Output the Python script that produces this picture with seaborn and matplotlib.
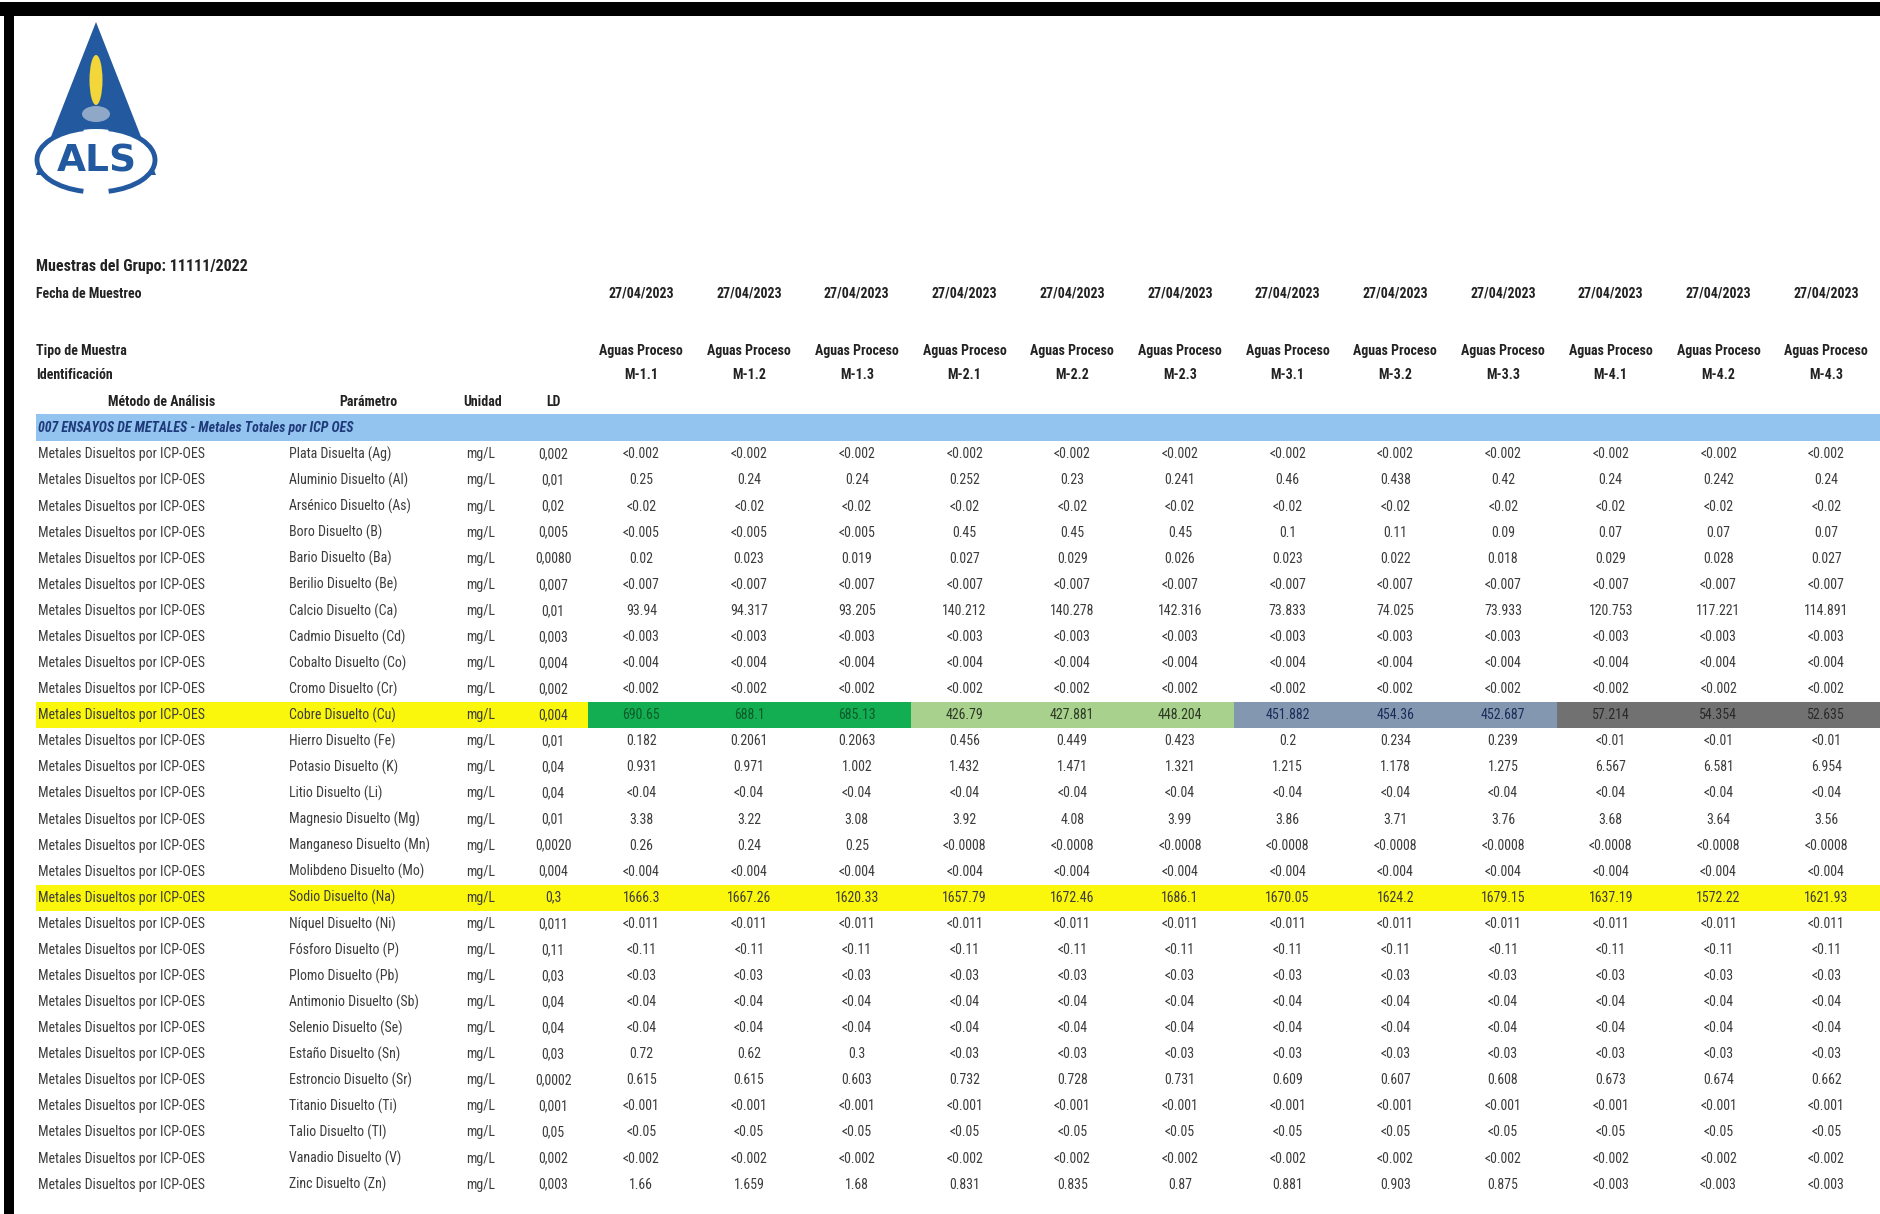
import numpy as np
import pandas as pd
import matplotlib
matplotlib.use("Agg")
import matplotlib.pyplot as plt
from matplotlib.colors import ListedColormap
from matplotlib.patches import Polygon, Ellipse, Arc, Rectangle
from matplotlib import font_manager
import seaborn as sns

# ---------------- data ----------------
group_label = "Muestras del Grupo: 11111/2022"
date_label = "Fecha de Muestreo"
type_label = "Tipo de Muestra"
id_label = "Identificación"
section_title = "007 ENSAYOS DE METALES - Metales Totales por ICP OES"
header_cols = ["Método de Análisis", "Parámetro", "Unidad", "LD"]

sample_dates = ["27/04/2023", "27/04/2023", "27/04/2023", "27/04/2023", "27/04/2023", "27/04/2023",
                "27/04/2023", "27/04/2023", "27/04/2023", "27/04/2023", "27/04/2023", "27/04/2023"]
sample_types = ["Aguas Proceso", "Aguas Proceso", "Aguas Proceso", "Aguas Proceso", "Aguas Proceso",
                "Aguas Proceso", "Aguas Proceso", "Aguas Proceso", "Aguas Proceso", "Aguas Proceso",
                "Aguas Proceso", "Aguas Proceso"]
sample_ids = ["M-1.1", "M-1.2", "M-1.3", "M-2.1", "M-2.2", "M-2.3",
              "M-3.1", "M-3.2", "M-3.3", "M-4.1", "M-4.2", "M-4.3"]

method_name = "Metales Disueltos por ICP-OES"
parameters = ["Plata Disuelta (Ag)", "Aluminio Disuelto (Al)", "Arsénico Disuelto (As)", "Boro Disuelto (B)",
              "Bario Disuelto (Ba)", "Berilio Disuelto (Be)", "Calcio Disuelto (Ca)", "Cadmio Disuelto (Cd)",
              "Cobalto Disuelto (Co)", "Cromo Disuelto (Cr)", "Cobre Disuelto (Cu)", "Hierro Disuelto (Fe)",
              "Potasio Disuelto (K)", "Litio Disuelto (Li)", "Magnesio Disuelto (Mg)", "Manganeso Disuelto (Mn)",
              "Molibdeno Disuelto (Mo)", "Sodio Disuelto (Na)", "Níquel Disuelto (Ni)", "Fósforo Disuelto (P)",
              "Plomo Disuelto (Pb)", "Antimonio Disuelto (Sb)", "Selenio Disuelto (Se)", "Estaño Disuelto (Sn)",
              "Estroncio Disuelto (Sr)", "Titanio Disuelto (Ti)", "Talio Disuelto (Tl)", "Vanadio Disuelto (V)",
              "Zinc Disuelto (Zn)"]
unit = "mg/L"
ld_values = ["0,002", "0,01", "0,02", "0,005", "0,0080", "0,007", "0,01", "0,003", "0,004", "0,002",
             "0,004", "0,01", "0,04", "0,04", "0,01", "0,0020", "0,004", "0,3", "0,011", "0,11",
             "0,03", "0,04", "0,04", "0,03", "0,0002", "0,001", "0,05", "0,002", "0,003"]

ag = ["<0.002", "<0.002", "<0.002", "<0.002", "<0.002", "<0.002", "<0.002", "<0.002", "<0.002", "<0.002", "<0.002", "<0.002"]
al = ["0.25", "0.24", "0.24", "0.252", "0.23", "0.241", "0.46", "0.438", "0.42", "0.24", "0.242", "0.24"]
as_ = ["<0.02", "<0.02", "<0.02", "<0.02", "<0.02", "<0.02", "<0.02", "<0.02", "<0.02", "<0.02", "<0.02", "<0.02"]
b = ["<0.005", "<0.005", "<0.005", "0.45", "0.45", "0.45", "0.1", "0.11", "0.09", "0.07", "0.07", "0.07"]
ba = ["0.02", "0.023", "0.019", "0.027", "0.029", "0.026", "0.023", "0.022", "0.018", "0.029", "0.028", "0.027"]
be = ["<0.007", "<0.007", "<0.007", "<0.007", "<0.007", "<0.007", "<0.007", "<0.007", "<0.007", "<0.007", "<0.007", "<0.007"]
ca = ["93.94", "94.317", "93.205", "140.212", "140.278", "142.316", "73.833", "74.025", "73.933", "120.753", "117.221", "114.891"]
cd = ["<0.003", "<0.003", "<0.003", "<0.003", "<0.003", "<0.003", "<0.003", "<0.003", "<0.003", "<0.003", "<0.003", "<0.003"]
co = ["<0.004", "<0.004", "<0.004", "<0.004", "<0.004", "<0.004", "<0.004", "<0.004", "<0.004", "<0.004", "<0.004", "<0.004"]
cr = ["<0.002", "<0.002", "<0.002", "<0.002", "<0.002", "<0.002", "<0.002", "<0.002", "<0.002", "<0.002", "<0.002", "<0.002"]
cu = ["690.65", "688.1", "685.13", "426.79", "427.881", "448.204", "451.882", "454.36", "452.687", "57.214", "54.354", "52.635"]
fe = ["0.182", "0.2061", "0.2063", "0.456", "0.449", "0.423", "0.2", "0.234", "0.239", "<0.01", "<0.01", "<0.01"]
k = ["0.931", "0.971", "1.002", "1.432", "1.471", "1.321", "1.215", "1.178", "1.275", "6.567", "6.581", "6.954"]
li = ["<0.04", "<0.04", "<0.04", "<0.04", "<0.04", "<0.04", "<0.04", "<0.04", "<0.04", "<0.04", "<0.04", "<0.04"]
mg = ["3.38", "3.22", "3.08", "3.92", "4.08", "3.99", "3.86", "3.71", "3.76", "3.68", "3.64", "3.56"]
mn = ["0.26", "0.24", "0.25", "<0.0008", "<0.0008", "<0.0008", "<0.0008", "<0.0008", "<0.0008", "<0.0008", "<0.0008", "<0.0008"]
mo = ["<0.004", "<0.004", "<0.004", "<0.004", "<0.004", "<0.004", "<0.004", "<0.004", "<0.004", "<0.004", "<0.004", "<0.004"]
na = ["1666.3", "1667.26", "1620.33", "1657.79", "1672.46", "1686.1", "1670.05", "1624.2", "1679.15", "1637.19", "1572.22", "1621.93"]
ni = ["<0.011", "<0.011", "<0.011", "<0.011", "<0.011", "<0.011", "<0.011", "<0.011", "<0.011", "<0.011", "<0.011", "<0.011"]
p = ["<0.11", "<0.11", "<0.11", "<0.11", "<0.11", "<0.11", "<0.11", "<0.11", "<0.11", "<0.11", "<0.11", "<0.11"]
pb = ["<0.03", "<0.03", "<0.03", "<0.03", "<0.03", "<0.03", "<0.03", "<0.03", "<0.03", "<0.03", "<0.03", "<0.03"]
sb = ["<0.04", "<0.04", "<0.04", "<0.04", "<0.04", "<0.04", "<0.04", "<0.04", "<0.04", "<0.04", "<0.04", "<0.04"]
se = ["<0.04", "<0.04", "<0.04", "<0.04", "<0.04", "<0.04", "<0.04", "<0.04", "<0.04", "<0.04", "<0.04", "<0.04"]
sn = ["0.72", "0.62", "0.3", "<0.03", "<0.03", "<0.03", "<0.03", "<0.03", "<0.03", "<0.03", "<0.03", "<0.03"]
sr = ["0.615", "0.615", "0.603", "0.732", "0.728", "0.731", "0.609", "0.607", "0.608", "0.673", "0.674", "0.662"]
ti = ["<0.001", "<0.001", "<0.001", "<0.001", "<0.001", "<0.001", "<0.001", "<0.001", "<0.001", "<0.001", "<0.001", "<0.001"]
tl = ["<0.05", "<0.05", "<0.05", "<0.05", "<0.05", "<0.05", "<0.05", "<0.05", "<0.05", "<0.05", "<0.05", "<0.05"]
v = ["<0.002", "<0.002", "<0.002", "<0.002", "<0.002", "<0.002", "<0.002", "<0.002", "<0.002", "<0.002", "<0.002", "<0.002"]
zn = ["1.66", "1.659", "1.68", "0.831", "0.835", "0.87", "0.881", "0.903", "0.875", "<0.003", "<0.003", "<0.003"]

results = [ag, al, as_, b, ba, be, ca, cd, co, cr, cu, fe, k, li, mg, mn, mo, na, ni, p, pb, sb, se,
           sn, sr, ti, tl, v, zn]

# ---------------- styling ----------------
W, H = 1880, 1214
row0, row_h = 454.4, 26.08
data_left, data_right = 587.5, 1880.0
n_rows, n_cols = len(parameters), len(sample_ids)
col_w = (data_right - data_left) / n_cols

avail = {f.name for f in font_manager.fontManager.ttflist}
main_font = next((f for f in ["Liberation Sans Narrow", "Roboto Condensed", "Open Sans Condensed", "Lato", "Roboto"]
                  if f in avail), "DejaVu Sans")

sns.set_theme(style="white")
plt.rcParams["font.family"] = [main_font, "DejaVu Sans"]

TXT = "#3c3c3c"
HDR = "#222222"
YELLOW = "#fbf70c"
BAND = "#93c3ef"
cell_colors = ["#ffffff", "#14ae52", "#a9d18e", "#8497b0", "#717171", YELLOW]

cu_idx = parameters.index("Cobre Disuelto (Cu)")
na_idx = parameters.index("Sodio Disuelto (Na)")
cat = np.zeros((n_rows, n_cols))
cat[na_idx, :] = 5
cat[cu_idx, 0:3] = 1
cat[cu_idx, 3:6] = 2
cat[cu_idx, 6:9] = 3
cat[cu_idx, 9:12] = 4
cu_text_colors = ["#0d5a2a"] * 3 + ["#2d3a25"] * 3 + ["#1c2c5a"] * 3 + ["#2a2a2a"] * 3

fig = plt.figure(figsize=(W / 100, H / 100), dpi=100)
fig.patch.set_facecolor("white")

bg = fig.add_axes([0, 0, 1, 1])
bg.set_xlim(0, W)
bg.set_ylim(H, 0)
bg.axis("off")

# black frame (top + left)
bg.add_patch(Rectangle((0, 2), W, 14, color="black", lw=0))
bg.add_patch(Rectangle((4, 2), 10, H, color="black", lw=0))

# logo
LOGO = "#22599f"
bg.add_patch(Polygon([(96, 22), (36, 175), (156, 175)], closed=True, color=LOGO, lw=0))
bg.add_patch(Ellipse((96, 160), 116, 62, color="white", lw=0))
bg.add_patch(Arc((96, 160), 118, 64, theta1=112, theta2=248, color=LOGO, lw=3.5))
bg.add_patch(Arc((96, 160), 118, 64, theta1=-68, theta2=68, color=LOGO, lw=3.5))
bg.add_patch(Ellipse((96, 80), 13, 50, color="#f3d73a", lw=0))
bg.add_patch(Ellipse((96, 114), 28, 16, color="#8fa8c8", lw=0))
bg.text(97, 162, "ALS", ha="center", va="center", fontsize=27, fontweight="bold", color=LOGO,
        family=["DejaVu Sans"])

# header texts
bg.text(36, 267, group_label, ha="left", va="center", fontsize=11.5, fontweight="bold", color=HDR)
bg.text(36, 294, date_label, ha="left", va="center", fontsize=10, fontweight="bold", color=HDR)
bg.text(36, 351, type_label, ha="left", va="center", fontsize=10, fontweight="bold", color=HDR)
bg.text(36, 375, id_label, ha="left", va="center", fontsize=10, fontweight="bold", color=HDR)
for name, xc in zip(header_cols, [162, 368, 483, 553]):
    bg.text(xc, 402, name, ha="center", va="center", fontsize=10, fontweight="bold", color=HDR)
for j in range(n_cols):
    xc = data_left + (j + 0.5) * col_w
    bg.text(xc, 294, sample_dates[j], ha="center", va="center", fontsize=10, fontweight="bold", color=HDR)
    bg.text(xc, 351, sample_types[j], ha="center", va="center", fontsize=10, fontweight="bold", color=HDR)
    bg.text(xc, 375, sample_ids[j], ha="center", va="center", fontsize=10, fontweight="bold", color=HDR)

# section band
bg.add_patch(Rectangle((36, 414), W - 36, 27, color=BAND, lw=0))
bg.text(38, 428, section_title, ha="left", va="center", fontsize=10, fontweight="bold",
        style="italic", color="#1f3a7a")

# highlight bands (left part)
for ri in [cu_idx, na_idx]:
    bg.add_patch(Rectangle((36, row0 + (ri - 0.5) * row_h), data_left - 36, row_h, color=YELLOW, lw=0))

# left columns
for i in range(n_rows):
    y = row0 + i * row_h
    bg.text(38, y, method_name, ha="left", va="center", fontsize=10, color=TXT)
    bg.text(289, y, parameters[i], ha="left", va="center", fontsize=10, color=TXT)
    bg.text(481, y, unit, ha="center", va="center", fontsize=10, color=TXT)
    bg.text(553, y, ld_values[i], ha="center", va="center", fontsize=10, color=TXT)

# data grid via seaborn heatmap
top = row0 - row_h / 2
bottom = row0 + (n_rows - 0.5) * row_h
hm_ax = fig.add_axes([data_left / W, 1 - bottom / H, (data_right - data_left) / W, (bottom - top) / H])
cat_df = pd.DataFrame(cat, index=parameters, columns=sample_ids)
annot = np.array(results, dtype=object)
sns.heatmap(cat_df, ax=hm_ax, cmap=ListedColormap(cell_colors), vmin=-0.5, vmax=5.5, cbar=False,
            annot=annot, fmt="", annot_kws={"fontsize": 10, "color": TXT},
            xticklabels=False, yticklabels=False, linewidths=0)
hm_ax.axis("off")
for t in hm_ax.texts:
    x, y = t.get_position()
    r, c = int(y), int(x)
    if r == cu_idx:
        t.set_color(cu_text_colors[c])

fig.savefig("out.png", dpi=100, facecolor="white")
